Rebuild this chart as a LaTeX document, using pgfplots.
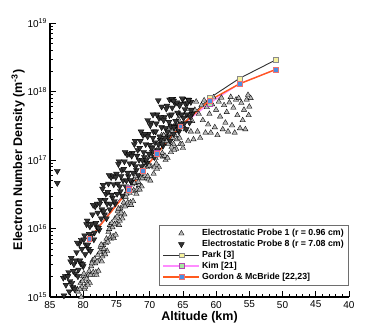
\documentclass[border=0pt]{standalone}
\usepackage{fontspec}
\setmainfont{Liberation Sans}
\usepackage{pgfplots}
\pgfplotsset{compat=1.18}
\definecolor{pone}{HTML}{B5B5B5}
\definecolor{peight}{HTML}{333333}
\definecolor{parkline}{HTML}{303030}
\definecolor{parkfill}{HTML}{F6F29C}
\definecolor{parkedge}{HTML}{8A8A8A}
\definecolor{kimline}{HTML}{FF8CFF}
\definecolor{kimfill}{HTML}{A6E6A0}
\definecolor{kimedge}{HTML}{B048B0}
\definecolor{gordline}{HTML}{FF5A1E}
\definecolor{gordfill}{HTML}{4B8FE0}
\definecolor{gordedge}{HTML}{F07070}
\begin{document}
\begin{tikzpicture}
\begin{axis}[
  at={(0pt,0pt)}, anchor=south west,
  scale only axis, width=299pt, height=274pt,
  x dir=reverse, xmin=40, xmax=85,
  ymode=log, ymin=1e15, ymax=1e19,
  axis lines=left, axis line style={-, line width=1.2pt},
  tick align=inside, tick style={black, line width=0.6pt},
  major tick length=6pt, minor tick length=3pt,
  xtick={40,45,...,85}, minor x tick num=4,
  ytick={1e15,1e16,1e17,1e18,1e19},
  yticklabels={{10\textsuperscript{15}},{10\textsuperscript{16}},{10\textsuperscript{17}},{10\textsuperscript{18}},{10\textsuperscript{19}}},
  /pgf/number format/assume math mode=true,
  ticklabel style={font=\fontsize{10}{12}\selectfont},
  yticklabel style={xshift=0.5pt},
  xticklabel style={yshift=-0.5pt},
  xlabel={Altitude (km)},
  ylabel={Electron Number Density (m\textsuperscript{-3})},
  xlabel shift=-3.5pt, ylabel shift=-4pt,
  label style={font=\bfseries\fontsize{12.5}{14}\selectfont},
  legend style={at={(1,0.043)}, anchor=south east, draw=parkedge!80!black, line width=0.6pt,
    font=\bfseries\fontsize{8.8}{10}\selectfont, cells={anchor=west}, row sep=-1pt},
  legend image code/.code={\draw[mark repeat=2,mark phase=2,#1] plot coordinates {(0pt,0pt) (18pt,0pt) (36pt,0pt)};},
]
\addplot[only marks, mark=triangle*, mark size=3.1pt, mark options={fill=pone, draw=black, line width=0.35pt}] coordinates {
(81.2,1.3e15)(81.0,8.5e14)(80.8,1.2e15)(80.6,8.9e14)(80.4,1.6e15)(80.2,1.4e15)(80.0,2.0e15)(79.8,1.3e15)(79.6,2.0e15)(79.4,1.6e15)(79.2,2.1e15)(79.0,1.6e15)(78.8,2.8e15)(78.6,3.4e15)(78.4,2.1e15)(78.2,3.1e15)(78.0,2.1e15)(77.8,4.1e15)(77.6,3.4e15)(77.4,5.4e15)(77.2,3.3e15)(77.0,5.7e15)(76.8,4.6e15)(76.6,6.1e15)(76.4,4.7e15)(76.2,8.9e15)(76.0,1.12e16)(75.8,7.1e15)(75.6,1.04e16)(75.4,7.2e15)(75.2,1.4e16)(75.0,1.17e16)(74.8,1.8e16)(74.6,1.12e16)(74.4,1.95e16)(74.2,1.6e16)(74.0,2.1e16)(73.8,1.6e16)(73.6,2.9e16)(73.4,3.5e16)(73.2,2.2e16)(73.0,3.3e16)(72.8,2.2e16)(72.6,4.4e16)(72.4,3.6e16)(72.2,5.5e16)(72.0,3.2e16)(71.8,5.5e16)(71.6,4.3e16)(71.4,5.4e16)(71.2,4.1e16)(71.0,7.2e16)(70.8,8.9e16)(70.6,5.4e16)(70.4,7.9e16)(70.2,5.2e16)(70.0,1.12e17)(69.8,8.1e16)(69.6,1.45e17)(69.4,6.3e16)(69.2,1.3e17)(69.0,8.9e16)(68.8,1.23e17)(68.6,7.9e16)(68.4,1.8e17)(68.2,2.3e17)(68.0,1.12e17)(67.8,1.85e17)(67.6,1.0e17)(67.4,2.5e17)(67.2,1.7e17)(67.0,3.0e17)(66.8,1.3e17)(66.6,2.6e17)(66.4,1.7e17)(66.2,2.3e17)(66.0,1.45e17)(65.8,3.5e17)(65.6,4.8e17)(65.4,1.7e17)(65.2,3.3e17)(65.0,1.5e17)(64.8,4.5e17)(64.6,2.8e17)(64.4,5.5e17)(64.2,1.9e17)(64.0,4.6e17)(63.8,2.6e17)(63.6,3.7e17)(63.4,2.0e17)(63.2,5.4e17)(63.0,7.1e17)(62.8,2.6e17)(62.6,4.7e17)(62.4,2.1e17)(62.2,6.3e17)(62.0,3.8e17)(61.8,7.4e17)(61.6,2.5e17)(61.4,5.9e17)(61.2,3.3e17)(61.0,4.7e17)(60.8,2.5e17)(60.6,6.5e17)(60.4,8.2e17)(60.2,3.0e17)(60.0,5.4e17)(59.8,2.3e17)(59.6,7.1e17)(59.4,4.3e17)(59.2,8.1e17)(59.0,2.8e17)(58.8,6.3e17)(58.6,3.5e17)(58.4,5.0e17)(58.2,2.6e17)(58.0,6.9e17)(57.8,8.3e17)(57.6,3.2e17)(57.4,5.8e17)(57.2,2.5e17)(57.0,7.6e17)(56.8,4.5e17)(56.6,8.0e17)(56.4,2.9e17)(56.2,6.8e17)(56.0,3.8e17)(55.8,5.4e17)(55.6,2.8e17)(55.4,7.6e17)(55.2,8.9e17)(55.0,6.0e17)(55.1,4.5e17)(54.8,8.0e17)
(81.1,8.9e14)(80.9,1.3e15)(80.7,9.5e14)(80.5,1.3e15)(80.3,1.0e15)(80.1,1.7e15)(79.9,2.2e15)(79.7,1.4e15)(79.5,1.85e15)(79.3,1.5e15)(79.1,2.4e15)(78.9,2.1e15)(78.7,3.1e15)(78.5,2.3e15)(78.3,3.6e15)(78.1,2.3e15)(77.9,3.3e15)(77.7,2.4e15)(77.5,4.5e15)(77.3,5.8e15)(77.1,3.9e15)(76.9,5.0e15)(76.7,4.2e15)(76.5,7.1e15)(76.3,6.4e15)(76.1,9.8e15)(75.9,7.6e15)(75.7,1.2e16)(75.5,7.7e15)(75.3,1.15e16)(75.1,8.1e15)(74.9,1.5e16)(74.7,1.95e16)(74.5,1.3e16)(74.3,1.7e16)(74.1,1.4e16)(73.9,2.4e16)(73.7,2.1e16)(73.5,3.2e16)(73.3,2.4e16)(73.1,3.8e16)(72.9,2.4e16)(72.7,3.5e16)(72.5,2.5e16)(72.3,4.6e16)(72.1,5.8e16)(71.9,3.7e16)(71.7,4.8e16)(71.5,3.7e16)(71.3,6.2e16)(71.1,5.4e16)(70.9,7.9e16)(70.7,5.9e16)(70.5,9.1e16)(70.3,5.8e16)(70.1,8.3e16)(69.9,5.0e16)(69.7,1.15e17)(69.5,1.5e17)(69.3,7.8e16)(69.1,1.07e17)(68.9,7.4e16)(68.7,1.5e17)(68.5,1.17e17)(68.3,2.0e17)(68.1,1.26e17)(67.9,2.3e17)(67.7,1.15e17)(67.5,1.9e17)(67.3,1.07e17)(67.1,2.4e17)(66.9,3.2e17)(66.7,1.55e17)(66.5,2.1e17)(66.3,1.4e17)(66.1,2.8e17)(65.9,2.0e17)(65.7,4.0e17)(65.5,2.1e17)(65.3,4.4e17)(65.1,1.7e17)
};
\addlegendentry{Electrostatic Probe 1 (r = 0.96 cm)}
\addplot[only marks, mark=triangle*, mark size=3.4pt, mark options={rotate=180, fill=peight, draw=black, line width=0.35pt}] coordinates {
(83.0,1.9e15)(82.8,9.3e14)(82.6,1.5e15)(82.4,8.3e14)(82.2,2.3e15)(82.0,1.7e15)(81.8,3.7e15)(81.6,1.4e15)(81.4,3.0e15)(81.2,2.2e15)(81.0,4.5e15)(80.8,2.0e15)(80.6,6.0e15)(80.4,3.1e15)(80.2,5.0e15)(80.0,2.8e15)(79.8,7.9e15)(79.6,5.8e15)(79.4,1.3e16)(79.2,5.0e15)(79.0,1.07e16)(78.8,7.8e15)(78.6,1.6e16)(78.4,6.9e15)(78.2,2.1e16)(78.0,1.07e16)(77.8,1.7e16)(77.6,9.5e15)(77.4,2.6e16)(77.2,1.9e16)(77.0,4.3e16)(76.8,1.6e16)(76.6,3.2e16)(76.4,2.3e16)(76.2,4.5e16)(76.0,1.9e16)(75.8,5.6e16)(75.6,2.8e16)(75.4,4.4e16)(75.2,2.3e16)(75.0,6.3e16)(74.8,4.5e16)(74.6,9.5e16)(74.4,3.5e16)(74.2,7.1e16)(74.0,5.0e16)(73.8,9.5e16)(73.6,4.1e16)(73.4,1.2e17)(73.2,5.8e16)(73.0,8.9e16)(72.8,4.8e16)(72.6,1.26e17)(72.4,8.9e16)(72.2,1.9e17)(72.0,7.1e16)(71.8,1.4e17)(71.6,1.0e17)(71.4,1.9e17)(71.2,8.1e16)(71.0,2.3e17)(70.8,1.1e17)(70.6,1.7e17)(70.4,9.1e16)(70.2,2.4e17)(70.0,1.66e17)(69.8,3.5e17)(69.6,1.3e17)(69.4,2.6e17)(69.2,1.8e17)(69.0,3.4e17)(68.8,1.4e17)(68.6,4.1e17)(68.4,1.95e17)(68.2,3.0e17)(68.0,1.6e17)(67.8,4.2e17)(67.6,2.9e17)(67.4,6.2e17)(67.2,2.2e17)(67.0,4.5e17)(66.8,3.1e17)(66.6,5.8e17)(66.4,2.4e17)(66.2,6.8e17)(66.0,3.2e17)(65.8,4.9e17)(65.6,2.6e17)(65.4,6.6e17)(65.2,4.6e17)(65.0,7.8e17)(64.8,3.4e17)(64.6,6.6e17)(64.4,4.6e17)(64.2,7.6e17)(64.0,3.5e17)(63.8,7.0e17)(63.6,4.7e17)
(82.9,1.05e15)(82.7,2.0e15)(82.5,8.9e14)(82.3,2.0e15)(82.1,1.2e15)(81.9,3.3e15)(81.7,1.6e15)(81.5,2.4e15)(81.3,1.3e15)(81.1,3.4e15)(80.9,6.2e15)(80.7,2.5e15)(80.5,3.4e15)(80.3,6.8e15)(80.1,3.0e15)(79.9,6.9e15)(79.7,4.2e15)(79.5,1.15e16)(79.3,5.8e15)(79.1,8.3e15)(78.9,4.7e15)(78.7,1.17e16)(78.5,2.2e16)(78.3,8.7e15)(78.1,1.2e16)(77.9,2.3e16)(77.7,1.02e16)(77.5,2.3e16)(77.3,1.4e16)(77.1,3.8e16)(76.9,1.8e16)(76.7,2.6e16)(76.5,1.4e16)(76.3,3.4e16)(76.1,6.0e16)(75.9,2.3e16)(75.7,3.1e16)(75.5,5.9e16)(75.3,2.5e16)(75.1,5.6e16)(74.9,3.2e16)(74.7,8.7e16)(74.5,4.1e16)(74.3,5.8e16)(74.1,3.0e16)(73.9,7.4e16)(73.7,1.3e17)(73.5,5.0e16)(73.3,6.5e16)(73.1,1.23e17)(72.9,5.1e16)(72.7,1.15e17)(72.5,6.5e16)(72.3,1.7e17)(72.1,8.1e16)(71.9,1.15e17)(71.7,6.0e16)(71.5,1.5e17)(71.3,2.6e17)(71.1,1.0e17)(70.9,1.3e17)(70.7,2.4e17)(70.5,1.0e17)(70.3,2.2e17)(70.1,1.23e17)(69.9,3.2e17)(69.7,1.5e17)(69.5,2.1e17)(69.3,1.1e17)(69.1,2.6e17)(68.9,4.6e17)(68.7,1.7e17)(68.5,2.2e17)(68.3,4.2e17)(68.1,1.7e17)(67.9,3.8e17)(67.7,2.1e17)(67.5,5.6e17)(67.3,2.6e17)(67.1,3.6e17)(66.9,1.9e17)(66.7,4.6e17)(66.5,7.8e17)(66.3,3.0e17)(66.1,3.7e17)(65.9,6.9e17)(65.7,2.8e17)(65.5,6.2e17)(65.3,3.4e17)(65.1,7.9e17)(64.9,4.1e17)(64.7,5.5e17)(64.5,2.8e17)(64.3,6.8e17)(64.1,7.5e17)(63.9,4.3e17)(63.7,5.4e17)
(83.9,6.9e16)(83.9,4.6e16)(68.7,7.4e17)(68.2,6.0e17)(67.0,7.6e17)(66.7,7.8e17)(66.4,7.3e17)(69.5,4.6e17)(70.3,3.8e17)
};
\addlegendentry{Electrostatic Probe 8 (r = 7.08 cm)}
\addplot[parkline, line width=0.9pt, mark=square*, mark size=2.4pt, mark options={fill=parkfill, draw=parkedge, line width=0.5pt}] coordinates {
(79.1,7.0e15)(73.1,4.0e16)(71.0,7.0e16)(68.9,1.26e17)(65.4,3.1e17)(61.0,8.0e17)(56.5,1.55e18)(51.0,2.9e18)
};
\addlegendentry{Park [3]}
\addplot[kimline, line width=1.2pt, mark=square*, mark size=2.4pt, mark options={fill=kimfill, draw=kimedge, line width=0.5pt}] coordinates {
(79.1,7.0e15)(73.1,3.8e16)(71.0,7.0e16)(68.9,1.26e17)(65.4,3.1e17)(61.0,6.7e17)(56.5,1.3e18)(51.0,2.1e18)
};
\addlegendentry{Kim [21]}
\addplot[gordline, line width=1.4pt, mark=square*, mark size=2.4pt, mark options={fill=gordfill, draw=gordedge, line width=0.5pt}] coordinates {
(79.1,7.0e15)(73.1,3.7e16)(71.0,7.0e16)(68.9,1.24e17)(65.4,3.1e17)(61.0,7.4e17)(56.5,1.29e18)(51.0,2.1e18)
};
\addlegendentry{Gordon \& McBride [22,23]}
\end{axis}
\pgfresetboundingbox
\path[use as bounding box] (-50pt,-37pt) rectangle (325pt,297pt);
\end{tikzpicture}
\end{document}
